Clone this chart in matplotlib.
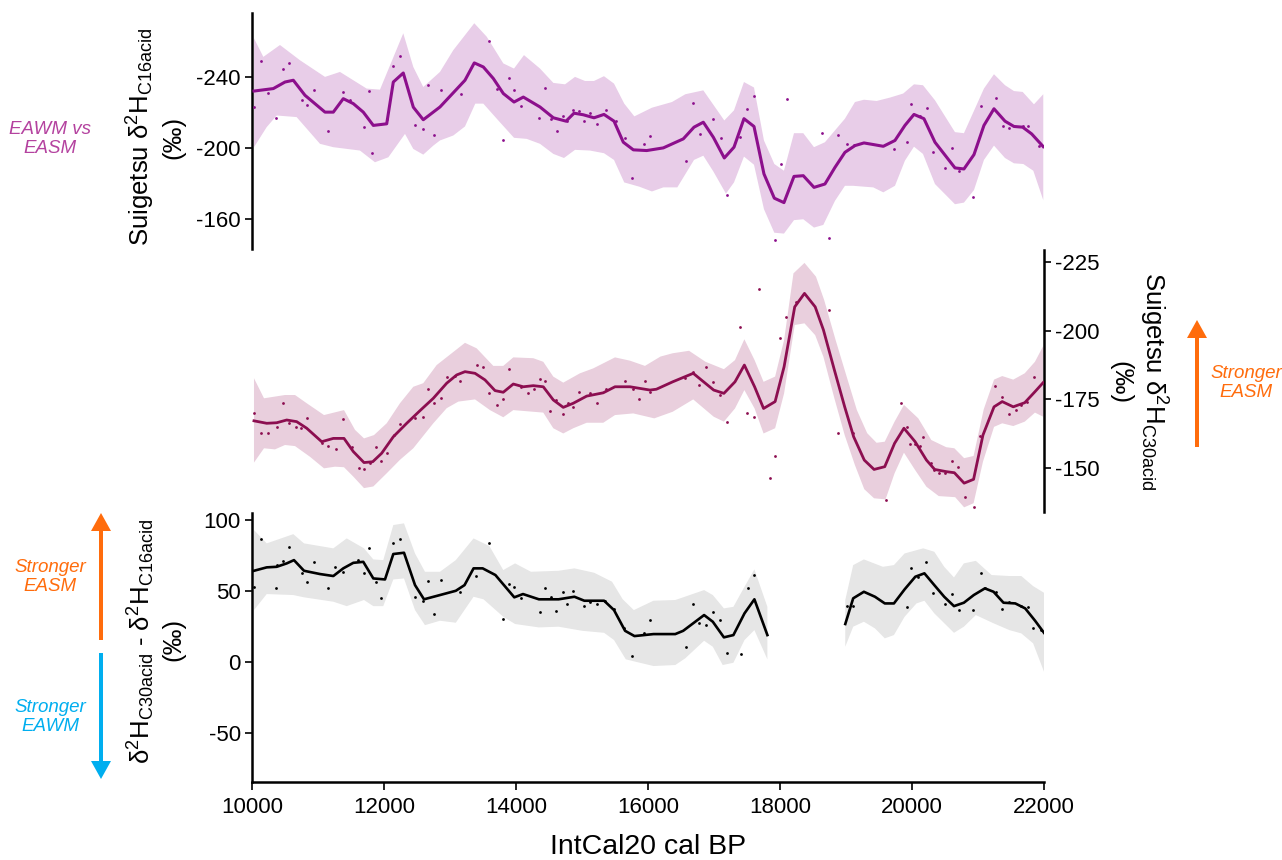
"""
Three stacked Suigetsu dD records (C16 acid, C30 acid and their difference)
against IntCal20 age, each drawn as a smoothed line with its band and the
individual measurements.
"""

import numpy as np
import matplotlib
matplotlib.use("Agg")
import matplotlib.pyplot as plt
from matplotlib.patches import FancyArrow


# ---- top: d2H C16acid ------------------------------------------------------
c16_line_x = [10030, 10323, 10500, 10626, 10803, 11106, 11232, 11383, 11535, 11686,
              11838, 12041, 12141, 12292, 12444, 12595, 12848, 13227, 13368, 13505,
              13656, 13808, 13970, 14111, 14364, 14566, 14758, 14879, 15020, 15182,
              15333, 15485, 15626, 15778, 15980, 16232, 16535, 16697, 16838, 16990,
              17156, 17303, 17454, 17606, 17757, 17914, 18060, 18212, 18353, 18515,
              18681, 18833, 18984, 19136, 19272, 19413, 19565, 19742, 19893, 20030,
              20181, 20348, 20651, 20787, 20939, 21090, 21242, 21409, 21545, 21677,
              21813, 21989]
c16_line_y = [-232.2, -233.6, -237.3, -238.3, -229.8, -220.3, -220.3, -227.9, -225.1, -220.3,
              -212.8, -213.7, -237.3, -242.4, -223.1, -216.0, -223.2, -238.3, -248.1, -245.8,
              -239.3, -230.8, -226.0, -228.8, -223.2, -217.1, -215.2, -219.7, -218.8, -217.1,
              -219.0, -215.2, -203.3, -199.0, -198.6, -200.1, -205.2, -211.8, -214.6, -206.1,
              -194.4, -200.5, -216.6, -212.2, -185.4, -171.7, -169.2, -184.0, -184.4, -177.8,
              -179.7, -189.1, -197.6, -201.4, -202.9, -202.0, -201.0, -204.3, -212.8, -219.0,
              -216.6, -203.3, -188.8, -188.2, -196.3, -212.8, -222.2, -215.2, -212.2, -211.8,
              -208.0, -200.8]

c16_hi_x = [10030, 10172, 10424, 10727, 11106, 11333, 11737, 11939, 12292, 12444,
            12595, 12848, 13050, 13368, 13556, 13808, 13970, 14121, 14364, 14566,
            14743, 14894, 15045, 15182, 15333, 15485, 15640, 15793, 16060, 16363,
            16566, 16838, 17156, 17303, 17454, 17606, 17757, 17914, 18060, 18212,
            18353, 18515, 18681, 18984, 19136, 19272, 19464, 19666, 19867, 20030,
            20166, 20348, 20651, 20787, 21090, 21242, 21409, 21545, 21677, 21848,
            21989]
c16_hi_y = [-262.0, -251.5, -258.2, -249.6, -240.2, -243.0, -233.6, -233.0, -264.8, -245.8,
            -234.5, -243.0, -255.3, -270.5, -262.9, -247.8, -244.9, -252.5, -244.9, -236.8,
            -236.0, -240.2, -237.9, -237.9, -240.6, -236.4, -225.1, -217.9, -222.8, -226.0,
            -230.4, -232.6, -215.6, -221.3, -237.3, -234.2, -204.3, -191.0, -187.2, -208.4,
            -208.4, -200.5, -203.3, -216.6, -226.0, -227.3, -226.6, -228.5, -230.8, -236.0,
            -235.5, -227.0, -209.0, -208.4, -233.6, -241.7, -235.5, -232.2, -231.7, -224.7,
            -230.4]

c16_lo_x = [10030, 10222, 10374, 10676, 11030, 11232, 11636, 11863, 12066, 12318,
            12444, 12595, 12747, 12848, 13050, 13227, 13383, 13505, 13732, 13970,
            14162, 14364, 14566, 14727, 14894, 15121, 15333, 15485, 15640, 15868,
            16060, 16232, 16444, 16697, 16838, 16990, 17181, 17303, 17454, 17606,
            17757, 17914, 18060, 18212, 18353, 18515, 18656, 18833, 18984, 19106,
            19272, 19413, 19565, 19742, 19893, 20030, 20166, 20348, 20651, 20787,
            20939, 21090, 21242, 21409, 21545, 21687, 21838, 21989]
c16_lo_y = [-200.5, -211.8, -218.4, -217.5, -202.4, -200.5, -198.6, -192.0, -194.8, -208.0,
            -199.5, -196.3, -201.4, -204.3, -207.1, -212.2, -225.1, -225.1, -215.6, -205.8,
            -205.2, -202.4, -196.7, -194.4, -199.0, -198.6, -197.1, -193.3, -180.6, -178.2,
            -175.5, -177.8, -177.8, -193.3, -195.7, -186.8, -174.3, -180.6, -195.2, -190.6,
            -165.5, -152.2, -151.7, -159.3, -159.8, -155.1, -156.6, -170.2, -178.7, -178.7,
            -178.2, -177.8, -175.0, -178.7, -192.9, -200.8, -196.7, -179.7, -168.3, -169.2,
            -176.3, -193.3, -201.4, -194.4, -191.4, -191.0, -187.2, -170.6]

c16_pts_x = [10030, 10136, 10247, 10364, 10474, 10565, 10753, 10838, 10939, 11156,
             11383, 11485, 11697, 11777, 11814, 12041, 12141, 12242, 12470, 12595,
             12671, 12757, 12859, 13162, 13595, 13707, 13808, 13898, 13970, 14071,
             14353, 14439, 14525, 14616, 14707, 14777, 14868, 14959, 15030, 15121,
             15222, 15359, 15515, 15651, 15762, 15939, 16030, 16575, 16686, 16787,
             16989, 17101, 17192, 17393, 17503, 17606, 17928, 18010, 18101, 18631,
             18746, 18883, 19019, 19121, 19727, 19919, 19984, 20121, 20222, 20313,
             20504, 20610, 20712, 20928, 21040, 21267, 21373, 21473, 21676, 21761,
             21928]
c16_pts_y = [-223.2, -249.2, -231.1, -217.1, -244.9, -247.8, -227.3, -224.1, -233.0, -209.9,
             -231.7, -227.3, -211.8, -232.2, -197.1, -216.6, -246.2, -251.9, -213.3, -210.9,
             -235.5, -207.1, -233.0, -230.8, -260.6, -233.6, -204.6, -239.8, -232.6, -223.5,
             -217.1, -233.8, -216.6, -209.9, -217.9, -215.2, -221.7, -220.7, -215.2, -219.7,
             -213.7, -221.3, -215.2, -205.8, -183.1, -202.4, -206.7, -192.9, -225.7, -207.7,
             -216.2, -205.8, -173.4, -206.5, -222.2, -229.2, -148.2, -191.0, -227.5, -208.4,
             -149.1, -207.1, -202.4, -202.0, -199.5, -203.5, -224.7, -217.9, -222.6, -197.6,
             -188.8, -200.1, -186.8, -172.5, -224.0, -228.3, -212.4, -211.2, -212.2, -212.2,
             -201.4]

# ---- middle: d2H C30acid ---------------------------------------------------
c30_line_x = [10030, 10223, 10374, 10526, 10677, 10829, 11056, 11232, 11394, 11535,
              11697, 11829, 11965, 12141, 12344, 12545, 12747, 12950, 13101, 13227,
              13379, 13530, 13682, 13807, 13959, 14110, 14262, 14413, 14565, 14716,
              14868, 15071, 15322, 15500, 15727, 16030, 16127, 16374, 16685, 16995,
              17150, 17318, 17460, 17615, 17751, 17926, 18062, 18223, 18371, 18533,
              18658, 18824, 18980, 19116, 19277, 19425, 19587, 19736, 19878, 20047,
              20219, 20343, 20518, 20642, 20790, 20933, 21075, 21243, 21367, 21534,
              21708, 21863, 21987]
c30_line_y = [-167.2, -166.3, -166.5, -167.5, -166.9, -164.5, -159.6, -160.8, -160.8, -156.0,
              -152.0, -152.3, -155.4, -161.4, -166.3, -170.9, -175.4, -180.9, -183.9, -185.1,
              -184.5, -182.1, -178.2, -177.6, -180.6, -179.6, -180.0, -179.6, -174.8, -172.1,
              -173.6, -176.2, -177.4, -179.6, -179.6, -178.4, -178.7, -181.4, -184.5, -178.4,
              -177.2, -181.4, -187.5, -179.6, -171.7, -174.2, -186.9, -208.7, -213.6, -208.7,
              -200.3, -185.7, -172.3, -161.4, -152.9, -149.5, -150.5, -159.0, -164.5, -159.6,
              -152.9, -149.5, -148.7, -148.3, -144.5, -145.9, -162.0, -172.3, -174.2, -172.3,
              -173.8, -177.8, -181.1]

c30_hi_x = [10030, 10182, 10500, 10652, 10829, 11091, 11394, 11561, 11697, 11848,
            12041, 12242, 12444, 12595, 12798, 13227, 13404, 13656, 13807, 13959,
            14262, 14413, 14565, 14716, 14969, 15171, 15500, 15727, 15954, 16189,
            16374, 16622, 16871, 17150, 17318, 17460, 17615, 17751, 17926, 18062,
            18204, 18371, 18545, 18669, 18843, 19010, 19165, 19321, 19463, 19587,
            19736, 19878, 20095, 20293, 20518, 20642, 20790, 20933, 21087, 21243,
            21367, 21534, 21708, 21863, 21987]
c30_hi_y = [-182.7, -175.4, -176.6, -176.6, -173.6, -169.3, -171.1, -163.9, -160.8, -162.0,
            -166.3, -173.6, -179.6, -180.9, -187.5, -195.6, -193.6, -187.2, -187.2, -190.3,
            -190.0, -188.7, -183.3, -181.1, -184.5, -186.3, -190.3, -189.1, -187.2, -190.6,
            -191.8, -192.7, -188.7, -186.0, -189.3, -196.9, -189.3, -181.4, -183.3, -196.6,
            -220.9, -224.7, -219.7, -211.2, -196.6, -183.3, -171.1, -162.7, -159.2, -159.6,
            -166.9, -173.0, -168.1, -160.2, -157.6, -157.2, -153.6, -154.4, -171.4, -182.2,
            -183.5, -182.2, -184.5, -188.7, -194.4]

c30_lo_x = [10030, 10182, 10348, 10500, 10652, 10879, 11091, 11258, 11394, 11535,
            11697, 11838, 12041, 12242, 12444, 12747, 12950, 13126, 13379, 13606,
            13807, 13959, 14110, 14413, 14565, 14716, 14868, 15071, 15322, 15500,
            15777, 16095, 16374, 16685, 16995, 17150, 17318, 17460, 17615, 17751,
            17926, 18062, 18223, 18371, 18533, 18658, 18824, 18980, 19135, 19277,
            19425, 19599, 19736, 19878, 20047, 20219, 20405, 20654, 20790, 20933,
            21075, 21243, 21367, 21534, 21708, 21863, 21987]
c30_lo_y = [-152.0, -157.2, -156.8, -158.4, -158.0, -154.1, -149.9, -150.5, -150.3, -146.9,
            -142.7, -143.3, -148.1, -153.0, -157.2, -166.3, -171.8, -174.2, -175.0, -171.1,
            -168.5, -171.1, -170.8, -170.2, -164.5, -162.6, -164.5, -166.5, -166.5, -169.3,
            -169.9, -168.1, -170.5, -175.0, -168.7, -166.9, -171.7, -178.4, -171.7, -162.6,
            -164.5, -177.2, -202.1, -202.7, -198.4, -190.5, -175.4, -162.0, -151.1, -142.3,
            -139.0, -138.6, -148.1, -155.6, -149.3, -143.2, -139.8, -139.4, -135.7, -137.2,
            -152.3, -165.0, -166.3, -165.3, -166.9, -170.2, -168.7]

c30_pts_x = [10030, 10132, 10247, 10374, 10474, 10565, 10667, 10738, 10838, 11056,
             11156, 11268, 11383, 11511, 11621, 11697, 11788, 11879, 11955, 12050,
             12151, 12242, 12470, 12595, 12671, 12757, 12859, 12959, 13076, 13151,
             13404, 13495, 13595, 13707, 13807, 13898, 14071, 14186, 14272, 14363,
             14439, 14515, 14606, 14707, 14783, 14868, 14959, 15121, 15232, 15363,
             15651, 15768, 15868, 15954, 16030, 16560, 16685, 16779, 16883, 16983,
             17088, 17194, 17398, 17503, 17603, 17689, 17851, 17926, 18006, 18098,
             18235, 18744, 18886, 19103, 19599, 19828, 19922, 19972, 20047, 20127,
             20171, 20282, 20332, 20406, 20500, 20604, 20704, 20809, 20933, 21027,
             21262, 21367, 21472, 21572, 21658, 21739, 21845]
c30_pts_y = [-170.2, -162.9, -162.9, -165.1, -173.6, -166.3, -165.1, -164.7, -168.1, -159.3,
             -158.0, -156.8, -167.9, -157.6, -149.9, -149.5, -151.7, -157.6, -152.7, -155.4,
             -162.0, -165.9, -168.1, -168.7, -178.7, -173.8, -175.4, -183.3, -183.5, -181.8,
             -187.5, -186.9, -177.5, -173.0, -175.1, -186.1, -179.6, -177.5, -178.8, -182.4,
             -181.8, -170.9, -174.8, -169.6, -173.8, -172.1, -177.8, -177.3, -173.8, -178.7,
             -181.8, -178.8, -175.1, -181.8, -177.8, -182.7, -185.1, -180.2, -186.7, -181.4,
             -176.6, -166.9, -201.2, -170.2, -168.7, -215.1, -146.3, -154.4, -197.5, -205.1,
             -210.6, -207.5, -162.9, -162.9, -138.4, -173.6, -165.1, -158.8, -158.8, -158.0,
             -161.4, -152.0, -149.3, -148.1, -148.1, -152.7, -150.5, -139.6, -136.0, -161.7,
             -179.9, -176.0, -169.7, -171.1, -173.0, -174.2, -183.3]

# ---- bottom: C30 minus C16 (no data 17800-19000, NaN marks the break) ------
diff_line_x = [10030, 10223, 10374, 10526, 10636, 10788, 11030, 11232, 11383, 11535,
               11686, 11838, 12015, 12141, 12303, 12470, 12606, 12848, 13088, 13220,
               13357, 13495, 13688, 13974, 14106, 14347, 14645, 14885, 15035, 15335,
               15485, 15653, 15795, 16083, 16413, 16533, 16850, 16982, 17150, 17294,
               17462, 17612, 17809, np.nan,
               18989, 19109, 19271, 19439, 19588, 19726, 19888, 20050, 20188, 20338,
               20488, 20636, 20786, 20936, 21104, 21236, 21386, 21565, 21715, 21865,
               22000]
diff_line_y = [64.3, 66.7, 67.1, 69.5, 71.8, 64.3, 62.0, 60.6, 66.0, 69.9,
               70.6, 58.9, 58.2, 76.1, 77.0, 54.2, 44.2, 47.2, 50.2, 54.2,
               66.0, 66.0, 61.3, 45.6, 47.9, 44.2, 44.2, 46.0, 43.2, 43.2,
               36.6, 22.0, 18.3, 19.7, 19.7, 22.0, 33.1, 28.4, 17.4, 19.0,
               34.3, 44.2, 19.0, np.nan,
               26.8, 44.9, 49.5, 46.0, 41.3, 41.3, 51.2, 60.1, 62.5, 54.2,
               46.0, 39.4, 41.8, 47.2, 51.9, 49.5, 41.8, 41.3, 37.8, 29.1,
               20.6]

diff_hi_x = [10030, 10223, 10626, 10788, 11232, 11435, 11697, 11838, 11989, 12141,
             12303, 12470, 12621, 12848, 13088, 13357, 13597, 13807, 13986, 14227,
             14645, 14885, 15185, 15455, 15617, 15785, 16083, 16413, 16533, 16850,
             16982, 17150, 17294, 17462, 17612, 17809, np.nan,
             18989, 19109, 19271, 19559, 19726, 19888, 20170, 20338, 20488, 20636,
             20786, 20967, 21206, 21476, 21656, 21835, 22000]
diff_hi_y = [93.0, 83.6, 90.1, 83.6, 80.1, 87.1, 80.1, 72.3, 71.8, 96.5,
             97.7, 76.5, 63.6, 63.6, 71.8, 87.1, 81.7, 64.8, 69.5, 63.6,
             64.3, 66.0, 62.9, 56.6, 44.2, 36.6, 43.2, 43.7, 45.6, 50.7,
             47.2, 37.8, 38.9, 53.0, 65.3, 38.9, np.nan,
             43.7, 68.3, 72.3, 67.1, 68.3, 76.5, 80.1, 77.7, 67.1, 59.6,
             69.5, 71.3, 61.3, 60.6, 60.6, 53.5, 48.8]

diff_lo_x = [10030, 10223, 10626, 10788, 11232, 11435, 11697, 11838, 11989, 12141,
             12303, 12470, 12621, 12848, 13088, 13357, 13508, 13807, 13986, 14347,
             14645, 15005, 15335, 15485, 15664, 16083, 16413, 16564, 16850, 16982,
             17132, 17294, 17462, 17612, 17809, np.nan,
             18989, 19109, 19271, 19439, 19588, 19726, 19888, 20068, 20188, 20338,
             20636, 20786, 20967, 21236, 21476, 21656, 21835, 22000]
diff_lo_y = [36.6, 47.9, 47.2, 45.6, 42.5, 39.4, 43.7, 39.4, 39.4, 58.2,
             58.9, 36.6, 26.0, 29.1, 27.7, 46.0, 44.2, 31.9, 26.8, 24.4,
             24.9, 22.0, 20.6, 15.5, 1.9, -2.8, -2.1, 2.6, 15.0, 10.8,
             -2.1, -0.5, 15.5, 22.5, 1.9, np.nan,
             10.8, 24.9, 28.4, 23.7, 16.7, 19.0, 31.9, 41.3, 43.2, 34.3,
             20.6, 24.9, 33.1, 27.3, 22.5, 20.2, 13.2, -6.8]

diff_pts_x = [10030, 10132, 10374, 10364, 10465, 10556, 10753, 10838, 10939, 11156,
              11258, 11383, 11611, 11697, 11777, 11879, 11955, 12141, 12242, 12470,
              12595, 12671, 12757, 12859, 13148, 13400, 13597, 13807, 13897, 13974,
              14077, 14357, 14436, 14526, 14604, 14706, 14777, 14862, 15035, 15126,
              15233, 15353, 15485, 15635, 15761, 15933, 16024, 16580, 16683, 16773,
              16874, 16982, 17091, 17192, 17407, 17509, 17612, 19019, 19109, 19918,
              19989, 20098, 20218, 20313, 20504, 20607, 20709, 20924, 21044, 21104,
              21266, 21367, 21476, 21656, 21764, 21835, 21955]
diff_pts_y = [53.0, 86.4, 68.3, 51.9, 71.3, 81.2, 62.9, 56.6, 70.6, 51.9,
              66.7, 63.6, 71.8, 62.5, 80.1, 56.6, 44.9, 84.0, 86.4, 45.6,
              43.2, 57.3, 33.8, 57.7, 49.5, 60.6, 84.0, 30.1, 54.9, 53.0,
              44.9, 35.4, 52.3, 46.0, 36.1, 49.1, 40.8, 50.2, 39.4, 42.5,
              40.8, 43.2, 37.1, 23.7, 4.4, 20.6, 29.6, 10.8, 40.8, 27.7,
              26.1, 35.2, 29.6, 6.6, 5.6, 52.3, 61.1, 39.4, 39.4, 38.9,
              66.0, 60.1, 70.6, 48.4, 40.8, 47.9, 36.6, 36.6, 62.5, 51.9,
              49.5, 37.1, 42.5, 39.4, 38.5, 24.2, 22.5]

x_ticks = [10000, 12000, 14000, 16000, 18000, 20000, 22000]
c16_ticks = [-240, -200, -160]
c30_ticks = [-225, -200, -175, -150]
diff_ticks = [100, 50, 0, -50]

C16_COLOR, C16_BAND = "#8c0f8c", "#e8cde8"
C30_COLOR, C30_BAND = "#8c0e50", "#e9cfdd"
DIFF_COLOR, DIFF_BAND = "black", "#e6e6e6"
ORANGE, BLUE, PURPLE = "#ff6c0c", "#00aeef", "#b4429f"

plt.rcParams["font.family"] = ["Liberation Sans", "DejaVu Sans"]
plt.rcParams["mathtext.fontset"] = "custom"
plt.rcParams["mathtext.rm"] = "Liberation Sans"
plt.rcParams["mathtext.it"] = "Liberation Sans:italic"
plt.rcParams["mathtext.bf"] = "Liberation Sans:bold"

TICK_FS = 16
LABEL_FS = 18.5


def segments(x, y):
    # split on NaN so each piece of a broken record is drawn on its own
    x, y = np.asarray(x, float), np.asarray(y, float)
    breaks = np.where(np.isnan(x))[0]
    out, start = [], 0
    for b in list(breaks) + [len(x)]:
        out.append((x[start:b], y[start:b]))
        start = b + 1
    return out


def draw_record(ax, lx, ly, hx, hy, bx, by, px, py, color, band, lw):
    for (ux, uy), (dx, dy) in zip(segments(hx, hy), segments(bx, by)):
        ax.fill(np.r_[ux, dx[::-1]], np.r_[uy, dy[::-1]], color=band, lw=0, zorder=1)
    for sx, sy in segments(lx, ly):
        ax.plot(sx, sy, color=color, lw=lw, zorder=3, solid_joinstyle="round")
    ax.plot(px, py, ls="none", marker="o", ms=2.0, mew=0, color=color, zorder=4)


def style(ax, side):
    ax.patch.set_alpha(0)
    for s in ax.spines.values():
        s.set_visible(False)
    ax.spines[side].set_visible(True)
    ax.spines[side].set_linewidth(1.8)
    ax.set_xlim(10000, 22000)
    ax.tick_params(axis="y", labelsize=TICK_FS, width=1.2, length=5, pad=3)
    ax.tick_params(axis="x", bottom=False, labelbottom=False)


fig = plt.figure(figsize=(12.82, 8.60), dpi=100)
L, W = 252 / 1282, 792 / 1282

ax_top = fig.add_axes([L, 1 - 249 / 860, W, 235.5 / 860])
ax_mid = fig.add_axes([L, 1 - 512 / 860, W, 262 / 860])
ax_bot = fig.add_axes([L, 1 - 782 / 860, W, 269 / 860])

draw_record(ax_top, c16_line_x, c16_line_y, c16_hi_x, c16_hi_y, c16_lo_x, c16_lo_y,
            c16_pts_x, c16_pts_y, C16_COLOR, C16_BAND, 2.2)
style(ax_top, "left")
ax_top.set_ylim(-143, -276)
ax_top.set_yticks(c16_ticks)
ax_top.set_yticklabels([str(t) for t in c16_ticks])

draw_record(ax_mid, c30_line_x, c30_line_y, c30_hi_x, c30_hi_y, c30_lo_x, c30_lo_y,
            c30_pts_x, c30_pts_y, C30_COLOR, C30_BAND, 2.0)
style(ax_mid, "right")
ax_mid.yaxis.tick_right()
ax_mid.set_ylim(-134, -229.4)
ax_mid.set_yticks(c30_ticks)
ax_mid.set_yticklabels([str(t) for t in c30_ticks])

draw_record(ax_bot, diff_line_x, diff_line_y, diff_hi_x, diff_hi_y, diff_lo_x, diff_lo_y,
            diff_pts_x, diff_pts_y, DIFF_COLOR, DIFF_BAND, 1.9)
style(ax_bot, "left")
ax_bot.spines["bottom"].set_visible(True)
ax_bot.spines["bottom"].set_linewidth(1.8)
ax_bot.set_ylim(-84.5, 105)
ax_bot.set_yticks(diff_ticks)
ax_bot.set_yticklabels([str(t) for t in diff_ticks])
ax_bot.tick_params(axis="x", bottom=True, labelbottom=True, labelsize=TICK_FS,
                   width=1.2, length=6, pad=5)
ax_bot.set_xticks(x_ticks)
ax_bot.set_xticklabels([str(t) for t in x_ticks])
ax_bot.set_xlabel("IntCal20 cal BP", fontsize=20.5, labelpad=11)

# axis titles, placed by hand as in the original layout
fig.text(141 / 1282, 1 - 137 / 860, r"Suigetsu δ$^{2}$H$_{\rm C16acid}$",
         rotation=90, ha="center", va="center", fontsize=LABEL_FS)
fig.text(173 / 1282, 1 - 137 / 860, "(‰)", rotation=90, ha="center", va="center",
         fontsize=LABEL_FS)

fig.text(1153 / 1282, 1 - 381 / 860, r"Suigetsu δ$^{2}$H$_{\rm C30acid}$",
         rotation=-90, ha="center", va="center", fontsize=LABEL_FS)
fig.text(1120 / 1282, 1 - 383 / 860, "(‰)", rotation=-90, ha="center", va="center",
         fontsize=LABEL_FS)

fig.text(141 / 1282, 1 - 641 / 860,
         r"δ$^{2}$H$_{\rm C30acid}$ - δ$^{2}$H$_{\rm C16acid}$",
         rotation=90, ha="center", va="center", fontsize=LABEL_FS)
fig.text(173 / 1282, 1 - 639 / 860, "(‰)", rotation=90, ha="center", va="center",
         fontsize=LABEL_FS)

# monsoon annotations
note = dict(ha="center", va="center", fontsize=13.5, style="italic", linespacing=1.2)
fig.text(50 / 1282, 1 - 139 / 860, "EAWM vs\nEASM", color=PURPLE, **note)
fig.text(50 / 1282, 1 - 577 / 860, "Stronger\nEASM", color=ORANGE, **note)
fig.text(50 / 1282, 1 - 717 / 860, "Stronger\nEAWM", color=BLUE, **note)
fig.text(1246 / 1282, 1 - 383 / 860, "Stronger\nEASM", color=ORANGE, **note)

arrow = dict(width=0.04, head_width=0.20, head_length=0.18,
             length_includes_head=True, lw=0, transform=fig.dpi_scale_trans)
fig.add_artist(FancyArrow(1.01, 2.20, 0, 1.27, color=ORANGE, **arrow))
fig.add_artist(FancyArrow(1.01, 2.07, 0, -1.26, color=BLUE, **arrow))
fig.add_artist(FancyArrow(11.97, 4.13, 0, 1.27, color=ORANGE, **arrow))

fig.savefig("out.png", dpi=100)
plt.close(fig)
